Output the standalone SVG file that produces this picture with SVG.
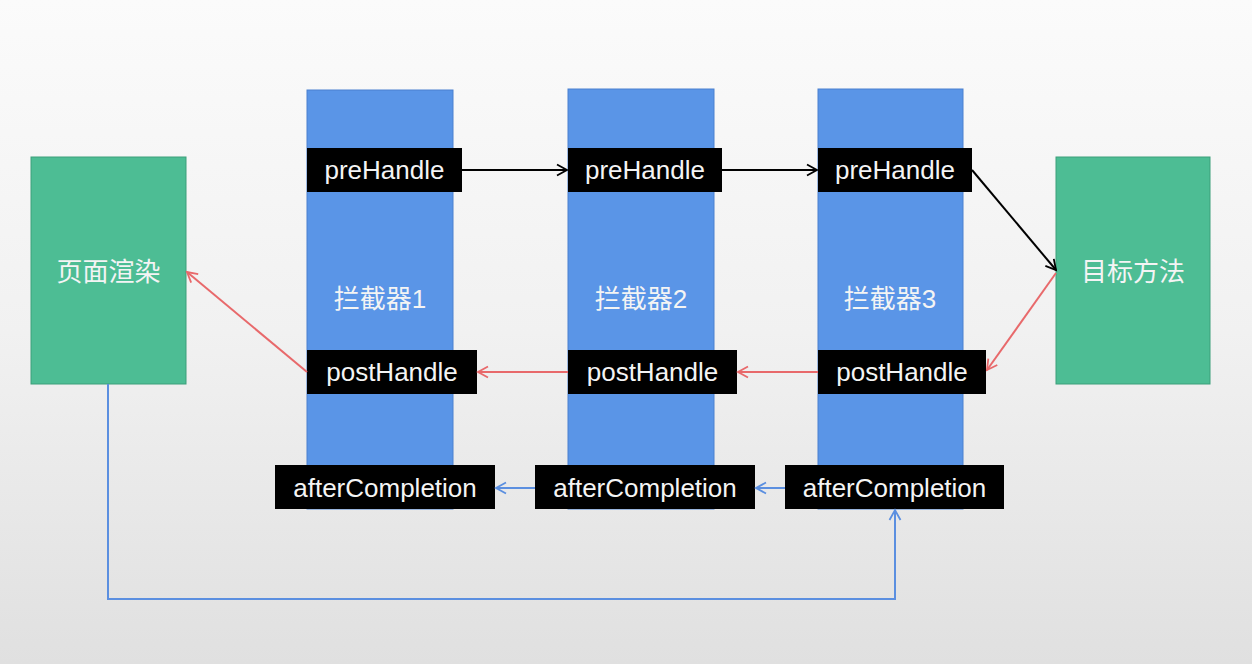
<svg xmlns="http://www.w3.org/2000/svg" width="1252" height="664" viewBox="0 0 1252 664">
<defs>
<linearGradient id="bg" x1="0" y1="0" x2="0" y2="1">
<stop offset="0" stop-color="#fbfbfb"/>
<stop offset="0.5" stop-color="#f1f1f1"/>
<stop offset="1" stop-color="#e0e0e0"/>
</linearGradient>
<marker id="ak" markerWidth="14" markerHeight="14" refX="11" refY="7" orient="auto" markerUnits="userSpaceOnUse"><path d="M1,1.5 L11,7 L1,12.5" fill="none" stroke="#000" stroke-width="1.8"/></marker>
<marker id="ar" markerWidth="14" markerHeight="14" refX="11" refY="7" orient="auto" markerUnits="userSpaceOnUse"><path d="M1,1.5 L11,7 L1,12.5" fill="none" stroke="#e8696b" stroke-width="1.8"/></marker>
<marker id="ab" markerWidth="14" markerHeight="14" refX="11" refY="7" orient="auto" markerUnits="userSpaceOnUse"><path d="M1,1.5 L11,7 L1,12.5" fill="none" stroke="#5b8fe0" stroke-width="1.8"/></marker>
</defs>
<style>
.green{fill:#4dbd94;stroke:#3d9f7b;stroke-width:1}
.col{fill:#5a95e7;stroke:#4a80cf;stroke-width:1}
.lbl{fill:#000}
.t{font-family:"Liberation Sans","Noto Sans CJK SC",Arial,sans-serif;font-size:26px;fill:#f4f4f4;text-anchor:middle}
.k{stroke:#000;stroke-width:2;fill:none;marker-end:url(#ak)}
.r{stroke:#e8696b;stroke-width:2;fill:none;marker-end:url(#ar)}
.b{stroke:#5b8fe0;stroke-width:2;fill:none;marker-end:url(#ab)}
</style>
<rect width="1252" height="664" fill="url(#bg)"/>

<g id="render">
<rect class="green" x="31" y="157" width="155" height="227"/>
<text class="t" x="108.5" y="281">页面渲染</text>
</g>
<g id="target">
<rect class="green" x="1056" y="157" width="154" height="227"/>
<text class="t" x="1133" y="281">目标方法</text>
</g>

<g id="interceptor1">
<rect class="col" x="307" y="90" width="146" height="419"/>
<text class="t" x="380" y="308">拦截器1</text>
<rect class="lbl" x="307" y="148" width="155" height="44"/>
<text class="t" x="384.5" y="179">preHandle</text>
<rect class="lbl" x="307" y="350" width="170" height="44"/>
<text class="t" x="392" y="381">postHandle</text>
<rect class="lbl" x="275" y="465" width="220" height="44"/>
<text class="t" x="385" y="497">afterCompletion</text>
</g>

<g id="interceptor2">
<rect class="col" x="568" y="89" width="146" height="420"/>
<text class="t" x="641" y="308">拦截器2</text>
<rect class="lbl" x="568" y="148" width="154" height="44"/>
<text class="t" x="645" y="179">preHandle</text>
<rect class="lbl" x="568" y="350" width="169" height="44"/>
<text class="t" x="652.5" y="381">postHandle</text>
<rect class="lbl" x="535" y="465" width="220" height="44"/>
<text class="t" x="645" y="497">afterCompletion</text>
</g>

<g id="interceptor3">
<rect class="col" x="818" y="89" width="145" height="420"/>
<text class="t" x="890" y="308">拦截器3</text>
<rect class="lbl" x="818" y="148" width="154" height="44"/>
<text class="t" x="895" y="179">preHandle</text>
<rect class="lbl" x="818" y="350" width="168" height="44"/>
<text class="t" x="902" y="381">postHandle</text>
<rect class="lbl" x="785" y="465" width="219" height="44"/>
<text class="t" x="894.5" y="497">afterCompletion</text>
</g>

<g id="connectors">
<line class="k" x1="462" y1="170" x2="567" y2="170"/>
<line class="k" x1="722" y1="170" x2="817" y2="170"/>
<line class="k" x1="972" y1="170" x2="1056" y2="270"/>
<line class="r" x1="1056" y1="273" x2="987" y2="370"/>
<line class="r" x1="818" y1="372" x2="738" y2="372"/>
<line class="r" x1="568" y1="372" x2="478" y2="372"/>
<line class="r" x1="307" y1="372" x2="187" y2="272"/>
<line class="b" x1="535" y1="488" x2="496" y2="488"/>
<line class="b" x1="785" y1="488" x2="756" y2="488"/>
<polyline class="b" points="108,384 108,599 895,599 895,510"/>
</g>
</svg>
